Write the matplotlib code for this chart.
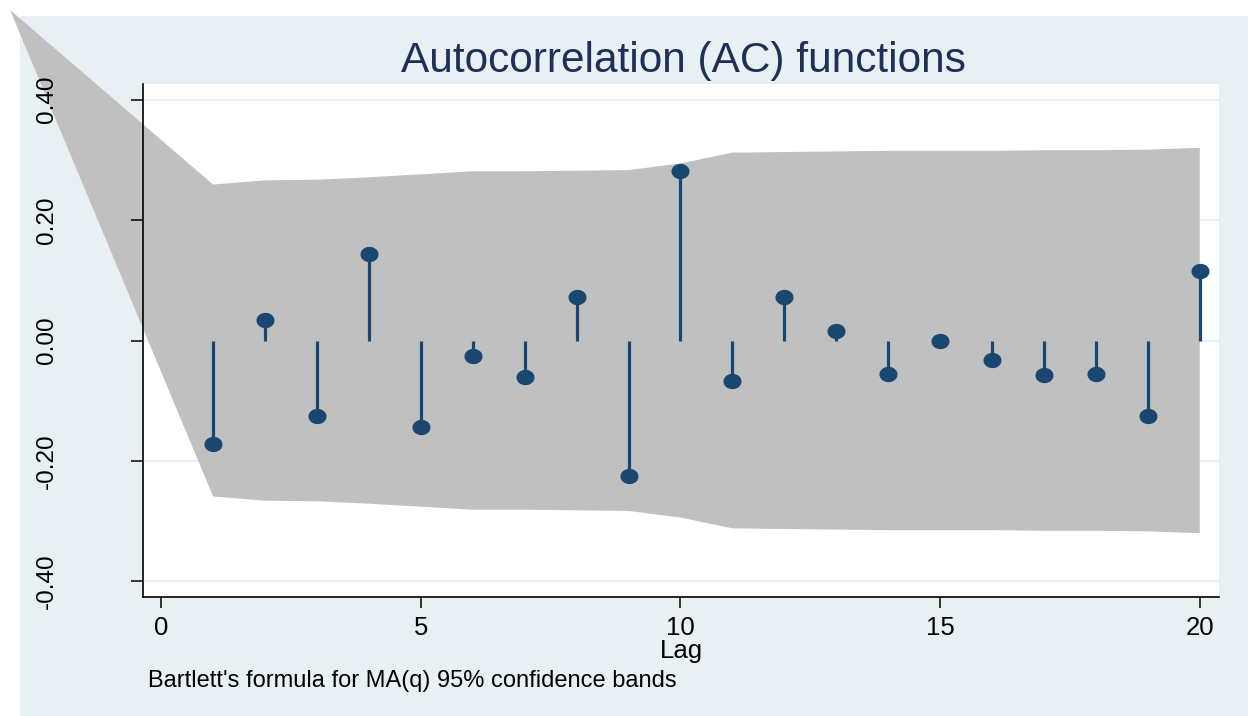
import matplotlib.pyplot as plt
import numpy as np
from matplotlib.patches import Polygon, Rectangle
from matplotlib.ticker import FormatStrFormatter

plt.rcParams['font.family'] = ['Liberation Sans', 'DejaVu Sans']
plt.rcParams['axes.unicode_minus'] = False

# autocorrelations by lag
lags = [1, 2, 3, 4, 5, 6, 7, 8, 9, 10, 11, 12, 13, 14, 15, 16, 17, 18, 19, 20]
ac = [-0.172, 0.034, -0.125, 0.143, -0.143, -0.026, -0.061, 0.073, -0.225, 0.281,
      -0.067, 0.072, 0.015, -0.055, -0.001, -0.033, -0.057, -0.055, -0.126, 0.116]
# Bartlett 95% band (upper edge, lower edge is mirrored)
band = [0.259, 0.266, 0.267, 0.271, 0.276, 0.281, 0.281, 0.282, 0.283, 0.294,
        0.312, 0.313, 0.314, 0.315, 0.315, 0.315, 0.316, 0.316, 0.317, 0.320]
# where the band edges meet, left of lag 0 (drawn unclipped)
band_apex = (-2.91, 0.549)

xticks = [0, 5, 10, 15, 20]
yticks = [-0.4, -0.2, 0.0, 0.2, 0.4]

navy = '#1a476f'
bg = '#e8f0f3'

fig = plt.figure(figsize=(12.48, 7.16), dpi=100, facecolor='white')
fig.patches.append(Rectangle((20 / 1248, 0), 1228 / 1248, 700 / 716,
                             transform=fig.transFigure, facecolor=bg,
                             edgecolor='none', zorder=-5))

ax = fig.add_axes([143 / 1248, 1 - 597 / 716, (1219 - 143) / 1248, (597 - 84) / 716])
ax.set_zorder(1)
ax.set_facecolor('white')
ax.set_xlim(-0.35, 20.37)
ax.set_ylim(-0.426, 0.426)

for y in yticks:
    ax.axhline(y, color='#eaf1f4', lw=1.6, zorder=0)

# confidence band polygon
pts = [band_apex] + list(zip(lags, band)) + list(zip(lags[::-1], [-b for b in band[::-1]]))
poly = Polygon(pts, closed=True, facecolor='#c0c0c0', edgecolor='none',
               clip_on=False, zorder=1)
ax.add_patch(poly)

# stems and ellipse-ish markers
ax.vlines(lags, 0, ac, color=navy, lw=2.3, zorder=2)
t = np.linspace(0, 2 * np.pi, 40)
ell = np.column_stack([np.cos(t) * 1.2, np.sin(t)])
ax.plot(lags, ac, linestyle='none', marker=ell, markersize=12,
        color=navy, zorder=3)

for s in ['top', 'right']:
    ax.spines[s].set_visible(False)
for s in ['left', 'bottom']:
    ax.spines[s].set_linewidth(1.2)
    ax.spines[s].set_color('black')

ax.set_xticks(xticks)
ax.set_yticks(yticks)
ax.yaxis.set_major_formatter(FormatStrFormatter('%.2f'))
ax.tick_params(axis='x', length=8, width=1.1, labelsize=18.5, pad=6, direction='out')
ax.tick_params(axis='y', length=9, width=1.1, labelsize=17.5, pad=52, direction='out')
for lab in ax.get_yticklabels():
    lab.set_rotation(90)
    lab.set_va('center')

fig.text(683 / 1248, 1 - 61 / 716, 'Autocorrelation (AC) functions',
         ha='center', va='center', fontsize=30.5, color='#1f2f57')
fig.text(681 / 1248, 1 - 651 / 716, 'Lag', ha='center', va='center', fontsize=18.5)
fig.text(148 / 1248, 1 - 681 / 716,
         "Bartlett's formula for MA(q) 95% confidence bands",
         ha='left', va='center', fontsize=17)

fig.savefig('out.png', dpi=100, facecolor=fig.get_facecolor())
